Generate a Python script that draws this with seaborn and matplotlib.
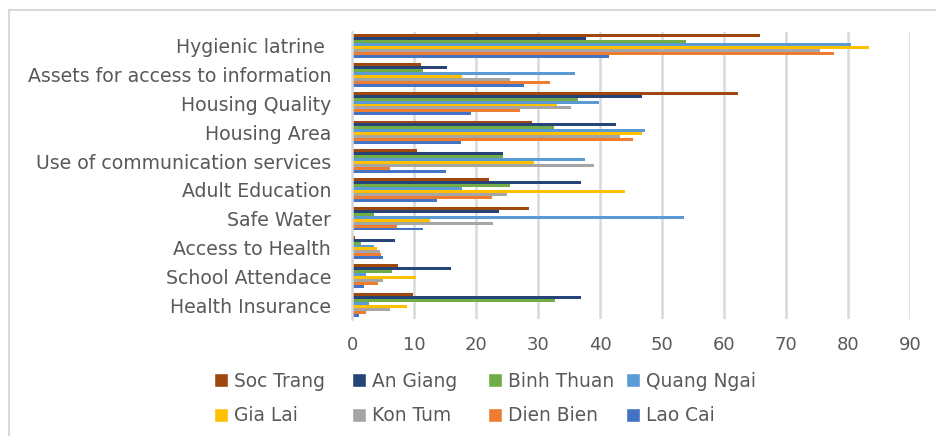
import matplotlib
matplotlib.use("Agg")
import matplotlib.pyplot as plt
import seaborn as sns
import pandas as pd
from matplotlib.patches import Patch
from matplotlib.lines import Line2D

categories = ["Hygienic latrine ", "Assets for access to information", "Housing Quality",
              "Housing Area", "Use of communication services", "Adult Education",
              "Safe Water", "Access to Health", "School Attendace", "Health Insurance"]

provinces = ["Soc Trang", "An Giang", "Binh Thuan", "Quang Ngai",
             "Gia Lai", "Kon Tum", "Dien Bien", "Lao Cai"]

soc_trang  = [65.8, 11.1, 62.2, 29.0, 10.5, 22.1, 28.5, 0.5, 7.4, 9.9]
an_giang   = [37.8, 15.4, 46.8, 42.6, 24.3, 36.9, 23.7, 7.0, 16.0, 36.9]
binh_thuan = [53.8, 11.5, 36.5, 32.6, 24.3, 25.5, 3.6, 1.5, 6.5, 32.8]
quang_ngai = [80.5, 36.0, 39.9, 47.2, 37.5, 17.8, 53.5, 3.6, 2.2, 2.8]
gia_lai    = [83.4, 17.7, 33.0, 46.8, 29.4, 44.1, 12.5, 4.0, 10.3, 8.9]
kon_tum    = [75.5, 25.5, 35.4, 43.2, 39.1, 25.0, 22.8, 4.5, 5.0, 6.2]
dien_bien  = [77.7, 32.0, 27.1, 45.4, 6.2, 22.5, 7.2, 4.7, 4.2, 2.3]
lao_cai    = [41.4, 27.8, 19.2, 17.6, 15.1, 13.7, 11.4, 5.0, 1.9, 1.1]

x_ticks = [0, 10, 20, 30, 40, 50, 60, 70, 80, 90]

colors = ["#9E480E", "#264478", "#70AD47", "#5B9BD5",
          "#FFC000", "#A5A5A5", "#ED7D31", "#4472C4"]

series = [soc_trang, an_giang, binh_thuan, quang_ngai, gia_lai, kon_tum, dien_bien, lao_cai]
rows = []
for prov, vals in zip(provinces, series):
    for cat, v in zip(categories, vals):
        rows.append({"Category": cat, "Province": prov, "Value": v})
df = pd.DataFrame(rows)

sns.set_theme(style="white")
plt.rcParams['font.family'] = ['DejaVu Sans']

W, H = 936, 436
fig = plt.figure(figsize=(W / 100, H / 100), dpi=100)
top_px, bot_px, left_px, right_px = 31.6, 319.4, 352, 910
ax = fig.add_axes([left_px / W, 1 - bot_px / H, (right_px - left_px) / W, (bot_px - top_px) / H])

sns.barplot(data=df, y="Category", x="Value", hue="Province", order=categories,
            hue_order=provinces, palette=colors, orient="h", width=0.82,
            saturation=1, errorbar=None, legend=False, linewidth=0, ax=ax)

ax.set_xlim(0, 90)
ax.set_xticks(x_ticks)
ax.set_xlabel("")
ax.set_ylabel("")
ax.grid(axis="x", color="#d9d9d9", lw=1.8)
ax.grid(axis="y", visible=False)
ax.set_axisbelow(True)
for s in ["top", "right", "bottom"]:
    ax.spines[s].set_visible(False)
ax.spines["left"].set_color("#d9d9d9")
ax.spines["left"].set_linewidth(1.8)
ax.tick_params(axis="y", length=0, colors="#595959", labelsize=13.6, pad=15)
ax.tick_params(axis="x", length=0, colors="#595959", labelsize=13, pad=12)

# legend: four equal-width columns
col_x = [214, 352, 488, 626]
legend_pairs = [(0, 4), (1, 5), (2, 6), (3, 7)]
for cx, (a, b) in zip(col_x, legend_pairs):
    handles = [Patch(facecolor=colors[a], label=provinces[a]),
               Patch(facecolor=colors[b], label=provinces[b])]
    fig.legend(handles=handles, loc="center left",
               bbox_to_anchor=(cx / W, 1 - 398.5 / H), frameon=False,
               fontsize=13.4, handlelength=0.75, handleheight=0.75,
               handletextpad=0.3, labelspacing=0.85, borderpad=0,
               borderaxespad=0, labelcolor="#595959")

# chart border (top and left edges visible)
fig.add_artist(Line2D([9 / W, 9 / W], [0, 1 - 10 / H], color="#d9d9d9", lw=1.5,
                      transform=fig.transFigure))
fig.add_artist(Line2D([9 / W, 1], [1 - 10 / H, 1 - 10 / H], color="#d9d9d9", lw=1.5,
                      transform=fig.transFigure))

fig.savefig("out.png", dpi=100)
